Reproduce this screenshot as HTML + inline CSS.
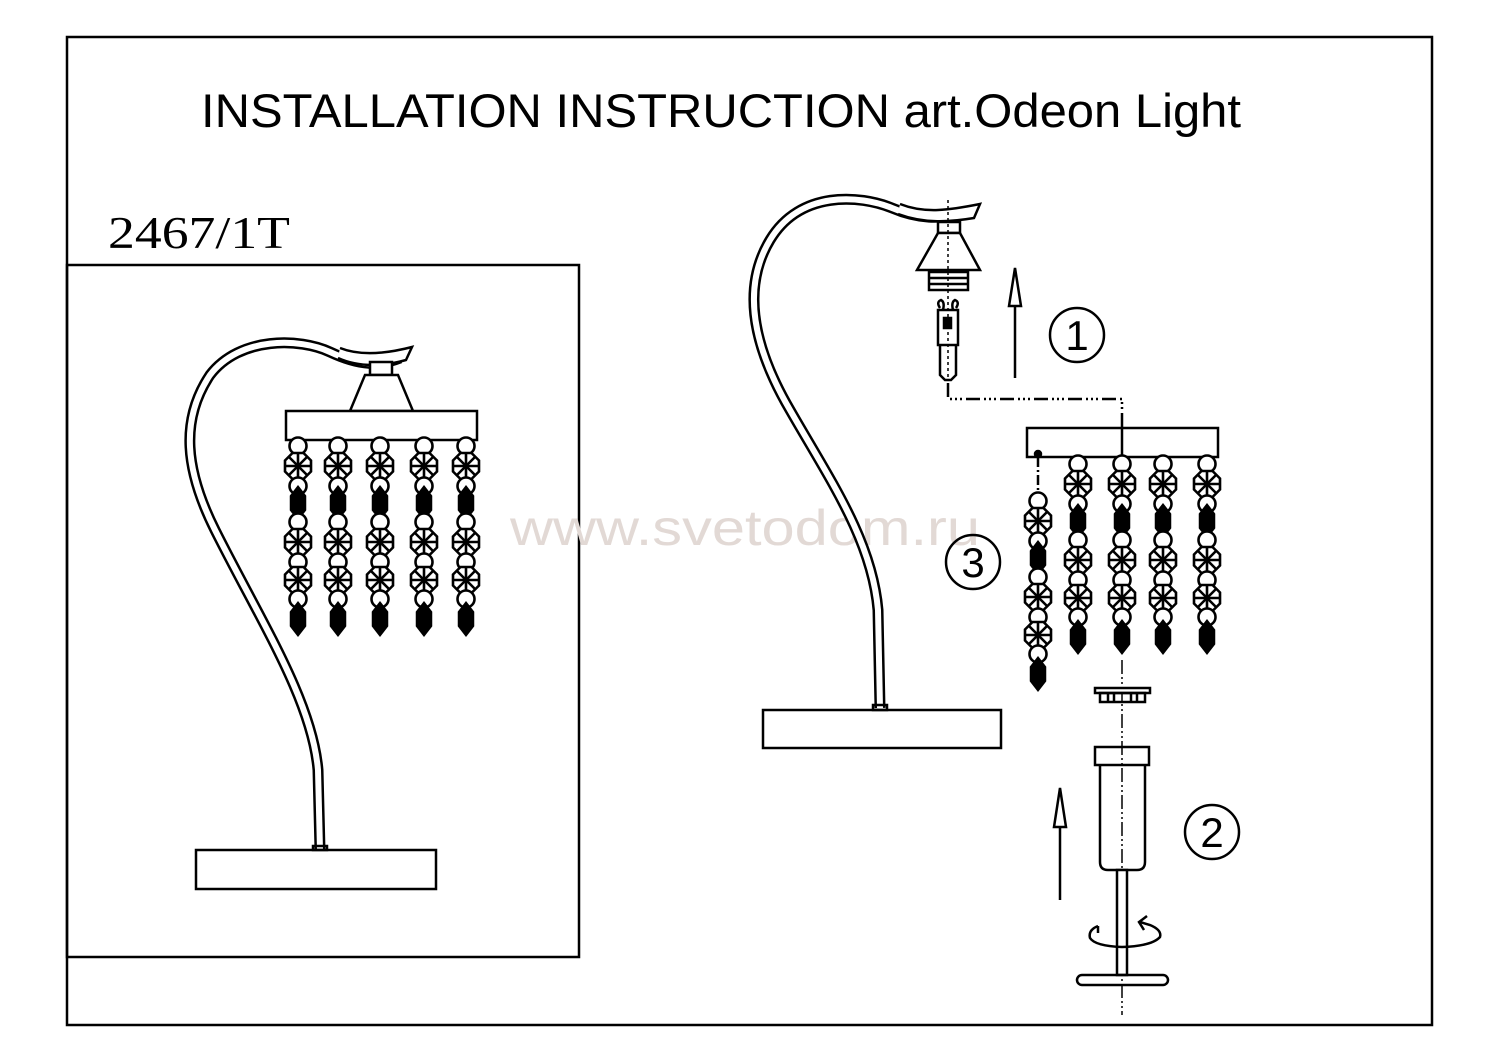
<!DOCTYPE html>
<html><head><meta charset="utf-8"><style>html,body{margin:0;padding:0;background:#fff}svg{display:block}</style></head>
<body>
<svg id="s" width="1500" height="1061" viewBox="0 0 1500 1061" xmlns="http://www.w3.org/2000/svg" fill="none" stroke="#000" stroke-width="2.5">
<defs>
<g id="oct" stroke-width="2.6"><polygon points="-5.5,-13 5.5,-13 13,-5.5 13,5.5 5.5,13 -5.5,13 -13,5.5 -13,-5.5" fill="#fff"/><line x1="-13" y1="0" x2="13" y2="0"/><line x1="0" y1="-13" x2="0" y2="13"/><line x1="-9" y1="-9" x2="9" y2="9"/><line x1="-9" y1="9" x2="9" y2="-9"/></g>
<circle id="cir" r="8.5" fill="#fff" stroke-width="2.6"/>
<polygon id="dia" points="0,-16 7,-7 7,7 0,16 -7,7 -7,-7" fill="#000"/>
</defs>
<rect x="67" y="37" width="1365" height="988"/>
<rect x="67" y="265" width="512" height="692"/>
<text x="201" y="127" font-family="Liberation Sans, sans-serif" font-size="47" fill="#000" stroke="none" textLength="1040" lengthAdjust="spacingAndGlyphs">INSTALLATION INSTRUCTION art.Odeon Light</text>
<text x="108" y="248" font-family="Liberation Serif, serif" font-size="45" fill="#000" stroke="none" textLength="182" lengthAdjust="spacingAndGlyphs">2467/1T</text>
<text x="510" y="545" font-family="Liberation Sans, sans-serif" font-size="50" fill="#e2d9d5" stroke="none" textLength="470" lengthAdjust="spacingAndGlyphs">www.svetodom.ru</text>

<!-- left lamp -->
<path d="M400 358 C380 366 360 366 330 352 C300 338 240 336 210 375 C180 420 185 470 215 530 C260 620 312 700 318 770 L320 850" stroke-width="11"/>
<path d="M400 358 C380 366 360 366 330 352 C300 338 240 336 210 375 C180 420 185 470 215 530 C260 620 312 700 318 770 L320 850" stroke="#fff" stroke-width="6"/>
<path d="M340 348 C360 356 385 354 412 347 L406 360 C385 366 360 368 338 358" fill="#fff" stroke-width="2.5"/>
<rect x="196" y="850" width="240" height="39"/>
<rect x="313" y="846" width="14" height="4"/>
<rect x="370" y="362" width="22" height="13" fill="#fff"/>
<polygon points="365,375 398,375 413,411 350,411" fill="#fff"/>
<rect x="286" y="411" width="191" height="29" fill="#fff"/>
<g id="leftcols"></g>

<!-- right lamp -->
<path d="M960 215 C940 218 920 220 892 208 C860 195 800 190 770 240 C740 290 755 350 790 410 C830 480 872 540 878 610 L880 708" stroke-width="11"/>
<path d="M960 215 C940 218 920 220 892 208 C860 195 800 190 770 240 C740 290 755 350 790 410 C830 480 872 540 878 610 L880 708" stroke="#fff" stroke-width="6"/>
<path d="M900 204 C925 214 950 210 980 204 L974 218 C950 222 925 224 898 214" fill="#fff"/>
<rect x="763" y="710" width="238" height="38"/>
<rect x="873" y="705" width="14" height="5"/>
<rect x="938" y="222" width="22" height="11" fill="#fff"/>
<polygon points="938,233 960,233 980,270 917,270" fill="#fff"/>
<rect x="929" y="272" width="39" height="18" fill="#fff"/>
<line x1="929" y1="278" x2="968" y2="278"/><line x1="929" y1="284" x2="968" y2="284"/>
<path d="M940 308 Q936 302 941 300 Q945 302 943 310 M956 308 Q960 302 955 300 Q951 302 953 310"/>
<rect x="938" y="310" width="20" height="35"/>
<rect x="944" y="318" width="7" height="10" fill="#000"/>
<path d="M940 345 L940 375 L945 380 L951 380 L956 375 L956 345"/>
<line x1="948" y1="200" x2="948" y2="380" stroke-width="1.5" stroke-dasharray="3 3"/>
<path d="M948 383 L948 399 L1122 399 L1122 430" stroke-width="2.5" stroke-dasharray="14 4 2 3 2 3 2 4"/>
<line x1="1015" y1="378" x2="1015" y2="306"/>
<polygon points="1015,268 1009,306 1021,306" fill="#fff"/>
<circle cx="1077" cy="335" r="27"/>
<text x="1077" y="350" font-family="Liberation Sans, sans-serif" font-size="42" fill="#000" stroke="none" text-anchor="middle">1</text>
<circle cx="973" cy="562" r="27"/>
<text x="973" y="577" font-family="Liberation Sans, sans-serif" font-size="42" fill="#000" stroke="none" text-anchor="middle">3</text>
<circle cx="1212" cy="832" r="27"/>
<text x="1212" y="847" font-family="Liberation Sans, sans-serif" font-size="42" fill="#000" stroke="none" text-anchor="middle">2</text>
<rect x="1027" y="428" width="191" height="29" fill="#fff"/>
<line x1="1122" y1="428" x2="1122" y2="457"/>
<circle cx="1038" cy="454" r="3" fill="#000"/>
<line x1="1038" y1="457" x2="1038" y2="492" stroke-dasharray="10 3 2 3"/>
<g id="rightcols"></g>
<line x1="1122" y1="660" x2="1122" y2="1015" stroke-width="1.5" stroke-dasharray="14 3 2 3 2 3"/>
<rect x="1095" y="688" width="55" height="5" fill="#fff"/>
<rect x="1100" y="693" width="45" height="9"/>
<line x1="1108" y1="693" x2="1108" y2="702"/><line x1="1114" y1="693" x2="1114" y2="702"/><line x1="1131" y1="693" x2="1131" y2="702"/><line x1="1137" y1="693" x2="1137" y2="702"/>
<rect x="1095" y="747" width="54" height="18"/>
<path d="M1100 765 L1100 862 Q1100 870 1108 870 L1137 870 Q1145 870 1145 862 L1145 765"/>
<rect x="1117" y="870" width="10" height="105" fill="#fff"/>
<rect x="1077" y="975" width="91" height="10" rx="5"/>
<path d="M1098 926 Q1088 930 1090 938 Q1095 946 1122 947 Q1152 946 1160 937 Q1162 930 1150 925 L1140 922 M1098 926 L1098 933" stroke-width="2.5"/>
<path d="M1147 916 L1139 922 L1144 930"/>
<line x1="1060" y1="900" x2="1060" y2="827"/>
<polygon points="1060,788 1054,827 1066,827" fill="#fff"/>
</svg>
<script>
var NS="http://www.w3.org/2000/svg";
var pat=[["cir",0],["oct",20],["cir",40],["dia",57],["cir",76],["oct",96],["cir",116],["oct",134],["cir",153],["dia",173]];
function col(g,x,c0){for(var i=0;i<pat.length;i++){var u=document.createElementNS(NS,"use");u.setAttribute("href","#"+pat[i][0]);u.setAttribute("transform","translate("+x+","+(c0+pat[i][1])+")");g.appendChild(u);}}
var L=document.getElementById("leftcols");[298,338,380,424,466].forEach(function(x){col(L,x,446);});
var R=document.getElementById("rightcols");[1078,1122,1163,1207].forEach(function(x){col(R,x,464);});col(R,1038,501);
</script>
</body></html>
